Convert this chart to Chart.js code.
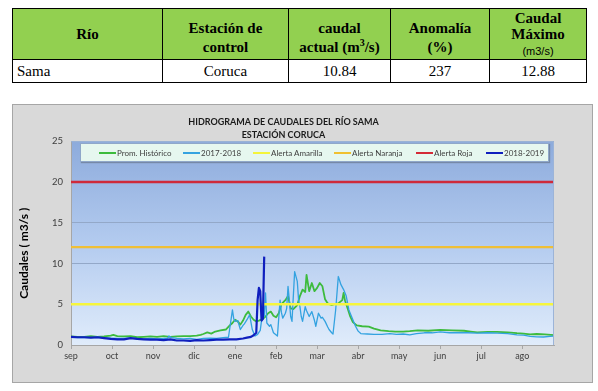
<!DOCTYPE html>
<html>
<head>
<meta charset="utf-8">
<script src="https://cdn.jsdelivr.net/npm/chart.js@4.4.1/dist/chart.umd.min.js"></script>
<style>
  html, body { margin:0; padding:0; background:#fff; width:598px; height:391px; overflow:hidden; }
  table.t { position:absolute; left:12px; top:8px; width:575px; border-collapse:collapse; color:#000; }
  table.t td { border:1px solid #000; padding:0; font-family:"Liberation Serif","Times New Roman",serif; }
  table.t tr.h td { background:#92d050; height:48px; font-weight:bold; font-size:15px; text-align:center; line-height:18px; }
  table.t tr.d td { height:22px; font-size:15px; text-align:center; line-height:18px; }
  table.t td .small { font-family:"Liberation Sans",Arial,sans-serif; font-weight:normal; font-size:11px; }
  #box { position:absolute; left:12px; top:104px; width:581px; height:279px; box-sizing:border-box; border:1px solid #a6a6a6; background:#d9d9d9; }
  #box canvas { position:absolute; left:0; top:0; }
  #legend { position:absolute; left:80px; top:143px; width:469px; height:19px; box-sizing:border-box; background:#e6f7ef; border:1px solid #8fa7c9; box-shadow:1px 1px 1px rgba(60,60,60,0.35); font-family:Lato,"Open Sans",sans-serif; font-size:8px; color:#404040; }
  #legend .it { position:absolute; top:4px; white-space:nowrap; line-height:10px; }
  #legend .ln { display:inline-block; width:17px; height:2px; vertical-align:middle; margin-right:1px; position:relative; top:-1px; }
</style>
</head>
<body>
<table class="t">
  <tr class="h">
    <td style="width:149px;vertical-align:middle;">Río</td>
    <td style="width:125px;vertical-align:bottom;padding-bottom:2px;line-height:19px;">Estación de<br>control</td>
    <td style="width:101px;vertical-align:bottom;padding-bottom:2px;line-height:19px;">caudal<br>actual (m<sup style="font-size:10px;line-height:0">3</sup>/s)</td>
    <td style="width:98px;vertical-align:bottom;padding-bottom:2px;line-height:19px;">Anomalía<br>(%)</td>
    <td style="vertical-align:middle;line-height:16px;">Caudal<br>Máximo<br><span class="small">(m3/s)</span></td>
  </tr>
  <tr class="d">
    <td style="text-align:left;padding-left:4px;">Sama</td>
    <td>Coruca</td>
    <td>10.84</td>
    <td>237</td>
    <td>12.88</td>
  </tr>
</table>

<div id="box"><canvas id="c" width="579" height="277"></canvas></div>
<div id="legend">
  <span class="it" style="left:18px"><span class="ln" style="background:#3dbb3d"></span>Prom. Histórico</span>
  <span class="it" style="left:102px"><span class="ln" style="background:#35a3e0"></span>2017-2018</span>
  <span class="it" style="left:172px"><span class="ln" style="background:#f4f43a"></span>Alerta Amarilla</span>
  <span class="it" style="left:253px"><span class="ln" style="background:#f0c030"></span>Alerta Naranja</span>
  <span class="it" style="left:335px"><span class="ln" style="background:#d42a36"></span>Alerta Roja</span>
  <span class="it" style="left:405px"><span class="ln" style="background:#0f1fbe"></span>2018-2019</span>
</div>

<script>
// ---- data (day index from 1 September, flow in m3/s) ----
const monthLabels = ["sep","oct","nov","dic","ene","feb","mar","abr","may","jun","jul","ago"];
const monthStartDay = [0,31,62,93,124,155,186,217,248,279,310,341];
const lastDay = 365;

const histDay = [0,5,10,15,20,25,30,32,35,40,45,50,55,60,65,70,75,80,85,90,95,98,100,103,106,109,113,117,120,122,124,126,128,130,132,134,136,138,140,142,145,147,149,151,153,155,157,159,162,164,166,168,171,173,175,177,178,180,182,184,186,188,190,192,194,197,199,202,205,206,207,209,211,213,216,220,225,229,234,240,245,251,256,262,270,279,288,297,302,307,315,322,330,337,342,347,352,358,365];
const histQ   = [1.05,1.0,1.0,1.1,1.0,1.05,1.15,1.25,1.1,1.05,1.1,0.95,1.0,1.05,1.0,1.1,1.0,1.05,1.1,1.1,1.15,1.25,1.35,1.55,1.4,1.65,1.8,1.9,2.4,2.7,3.1,2.9,2.5,3.0,3.7,4.1,3.5,3.1,2.9,3.0,3.2,3.5,3.9,4.1,3.6,3.4,3.9,5.0,5.5,6.0,4.5,4.4,4.9,6.0,6.8,6.5,8.6,6.6,7.6,6.6,7.0,7.6,7.2,5.6,5.1,4.9,5.0,5.1,5.5,6.4,5.5,4.5,3.5,2.8,2.4,2.3,2.25,2.0,1.8,1.7,1.65,1.65,1.7,1.8,1.75,1.85,1.8,1.75,1.65,1.55,1.6,1.6,1.55,1.45,1.4,1.3,1.35,1.3,1.22];

const y1718Day = [0,5,10,15,20,25,30,35,40,45,50,55,60,65,70,73,74,76,80,85,90,95,100,105,110,115,119,122,123,124,126,128,130,131,133,135,137,139,141,143,144,146,147,148,150,151,153,156,158,159,160,162,163,164,165,166,167,169,171,172,173,174,175,177,178,180,182,184,185,187,189,190,192,194,195,197,198,200,202,204,206,208,210,212,215,217,219,224,229,235,241,246,251,256,261,267,273,279,286,292,300,307,315,322,330,337,342,347,352,357,362,365];
const y1718Q   = [0.95,0.9,0.95,0.9,0.95,0.9,0.85,0.8,0.8,0.85,0.8,0.75,0.8,0.75,0.8,0.85,1.1,0.9,0.8,0.75,0.8,0.7,0.8,0.85,0.8,0.9,0.95,4.3,3.2,2.9,3.0,1.9,2.4,2.6,3.1,3.7,1.9,1.1,1.3,1.8,3.0,3.5,6.4,2.7,2.3,2.5,1.5,1.1,5.5,4.0,3.3,3.9,4.5,7.2,5.5,3.5,2.9,9.0,7.8,5.5,4.7,3.5,2.9,4.7,4.2,3.5,4.1,3.0,2.3,3.9,3.3,3.4,2.9,2.2,1.9,1.5,1.35,4.3,8.4,7.4,6.8,6.0,4.3,3.5,2.3,1.7,1.4,1.35,1.3,1.3,1.4,1.3,1.35,1.25,1.4,1.5,1.5,1.6,1.5,1.5,1.5,1.45,1.5,1.45,1.4,1.25,1.2,1.05,1.0,0.98,1.05,1.1];

const y1819Day = [0,5,10,15,20,25,30,35,40,45,50,55,60,65,70,75,80,85,90,95,100,105,110,115,120,125,130,133,136,138,140,141,142,143,144,145,146];
const y1819Q   = [1.0,0.95,0.95,0.9,0.95,0.85,0.75,0.7,0.7,0.85,0.75,0.7,0.65,0.65,0.6,0.7,0.55,0.55,0.5,0.6,0.55,0.6,0.65,0.65,0.7,0.7,0.8,0.9,1.0,1.2,1.5,5.5,7.0,6.6,3.0,3.2,10.84];

const alertAmarilla = 5;
const alertNaranja = 12;
const alertRoja = 20;

// ---- build ----
const pts = (xs, ys) => xs.map((x, i) => ({x: x, y: ys[i]}));
const flat = v => [{x: 0, y: v}, {x: lastDay, y: v}];

const bgPlugin = {
  id: 'bg',
  beforeDraw(chart) {
    const {ctx, chartArea: a} = chart;
    const g = ctx.createLinearGradient(0, a.top, 0, a.bottom);
    g.addColorStop(0, '#8dabdc');
    g.addColorStop(0.5, '#b3cbef');
    g.addColorStop(1, '#e0ecfb');
    ctx.save();
    ctx.fillStyle = g;
    ctx.fillRect(a.left, a.top, a.right - a.left, a.bottom - a.top);
    ctx.restore();
  },
  afterDraw(chart) {
    const {ctx, chartArea: a} = chart;
    ctx.save();
    ctx.strokeStyle = '#9cb4d8';
    ctx.lineWidth = 1;
    ctx.beginPath();
    ctx.moveTo(a.left, a.top + 0.5);
    ctx.lineTo(a.right - 0.5, a.top + 0.5);
    ctx.lineTo(a.right - 0.5, a.bottom);
    ctx.stroke();
    ctx.restore();
  }
};

const base = {pointRadius: 0, tension: 0, fill: false, borderJoinStyle: 'round'};

new Chart(document.getElementById('c'), {
  type: 'line',
  data: {
    datasets: [
      Object.assign({label: '2018-2019', data: pts(y1819Day, y1819Q), borderColor: '#0f1fbe', borderWidth: 2.2, order: 0}, base),
      Object.assign({label: 'Alerta Roja', data: flat(alertRoja), borderColor: '#cf2a3a', borderWidth: 2.5, order: 1}, base),
      Object.assign({label: 'Alerta Naranja', data: flat(alertNaranja), borderColor: '#efbf36', borderWidth: 2.2, order: 2}, base),
      Object.assign({label: 'Alerta Amarilla', data: flat(alertAmarilla), borderColor: '#f6f53c', borderWidth: 2.5, order: 3}, base),
      Object.assign({label: '2017-2018', data: pts(y1718Day, y1718Q), borderColor: '#33a2e0', borderWidth: 1.3, order: 4}, base),
      Object.assign({label: 'Prom. Histórico', data: pts(histDay, histQ), borderColor: '#3dbb3d', borderWidth: 1.8, order: 5}, base)
    ]
  },
  options: {
    responsive: false,
    animation: false,
    layout: { autoPadding: false, padding: {left: 0, right: 38, top: 11, bottom: 16} },
    plugins: {
      legend: { display: false },
      tooltip: { enabled: false },
      title: {
        display: true,
        text: ['HIDROGRAMA DE CAUDALES DEL RÍO SAMA', 'ESTACIÓN CORUCA'],
        color: '#1a1a1a',
        font: { family: 'Lato, "Open Sans", sans-serif', size: 9, weight: 'bold', lineHeight: 1.4 },
        padding: { top: 0, bottom: 0 }
      }
    },
    scales: {
      x: {
        type: 'linear', min: 0, max: lastDay,
        afterBuildTicks: s => { s.ticks = monthStartDay.map(v => ({value: v})); },
        afterFit: s => { s.height = 21; },
        ticks: {
          autoSkip: false, maxRotation: 0, padding: 2,
          color: '#404040', font: { family: 'Lato, "Open Sans", sans-serif', size: 9 },
          callback: (v, i) => monthLabels[i]
        },
        grid: { drawOnChartArea: false, drawTicks: true, tickLength: 4, color: '#a6a6a6' },
        border: { color: '#a6a6a6', width: 1 }
      },
      y: {
        min: 0, max: 25,
        afterFit: s => { s.width = 58; },
        ticks: { stepSize: 5, padding: 8, color: '#404040', font: { family: 'Lato, "Open Sans", sans-serif', size: 9.5 } },
        grid: { color: '#93a8c8', drawTicks: false, lineWidth: 1 },
        border: { color: '#a6a6a6', width: 1 },
        title: {
          display: true, text: 'Caudales ( m3/s )\u00a0\u00a0\u00a0\u00a0\u00a0\u00a0\u00a0', color: '#000',
          font: { family: 'Lato, "Open Sans", sans-serif', size: 12, weight: 'bold' },
          padding: { top: 4, bottom: 0 }
        }
      }
    }
  },
  plugins: [bgPlugin]
});
</script>
</body>
</html>
